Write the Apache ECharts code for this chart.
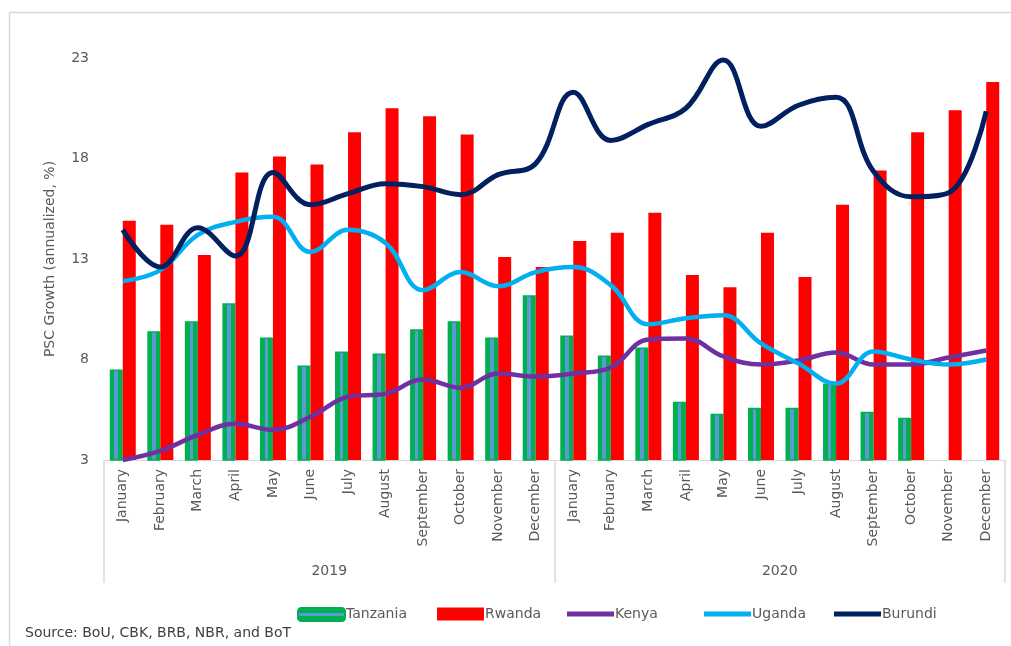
<!DOCTYPE html>
<html>
<head>
<meta charset="utf-8">
<script src="https://cdn.jsdelivr.net/npm/echarts@6/dist/echarts.min.js"></script>
<style>
  html, body { margin: 0; padding: 0; background: #ffffff; }
  #chart { width: 1011px; height: 646px; }
</style>
</head>
<body>
<div id="chart"></div>
<script>
// Months shown under each year, and the years themselves
const months = ['January', 'February', 'March', 'April', 'May', 'June', 'July',
  'August', 'September', 'October', 'November', 'December'];
const years = ['2019', '2020'];

// Y-axis ticks (annualized %)
const yTicks = [3, 8, 13, 18, 23];

// Private sector credit growth by country
const tanzania = [7.5, 9.4, 9.9, 10.8, 9.1, 7.7, 8.4, 8.3, 9.5, 9.9, 9.1, 11.2,
  9.2, 8.2, 8.6, 5.9, 5.3, 5.6, 5.6, 6.8, 5.4, 5.1, null, null];
const rwanda = [14.9, 14.7, 13.2, 17.3, 18.1, 17.7, 19.3, 20.5, 20.1, 19.2, 13.1, 12.6,
  13.9, 14.3, 15.3, 12.2, 11.6, 14.3, 12.1, 15.7, 17.4, 19.3, 20.4, 21.8];
const kenya = [3.0, 3.45, 4.25, 4.8, 4.5, 5.15, 6.15, 6.3, 7.0, 6.6, 7.3, 7.15,
  7.3, 7.6, 9.0, 9.05, 8.15, 7.75, 7.95, 8.35, 7.75, 7.75, 8.1, 8.45];
const uganda = [11.9, 12.45, 14.2, 14.85, 15.1, 13.35, 14.45, 13.8, 11.45, 12.35, 11.65, 12.35,
  12.6, 11.7, 9.75, 10.05, 10.2, 8.8, 7.8, 6.8, 8.4, 8.0, 7.75, 8.0];
const burundi = [14.45, 12.6, 14.55, 13.15, 17.3, 15.7, 16.25, 16.75, 16.6, 16.2, 17.2, 17.75,
  21.3, 18.9, 19.7, 20.5, 22.9, 19.6, 20.65, 21.05, 17.35, 16.1, 16.3, 20.35];

const sourceNote = 'Source: BoU, CBK, BRB, NBR, and BoT';

// One category per month across both years
const categories = [];
years.forEach(() => months.forEach(m => categories.push(m)));

const FONT = 'DejaVu Sans';
const TEXT = '#595959';
const AXIS = '#d9d9d9';
const GREEN = '#00B050';
const STEEL = '#5B9BD5';

// Tanzania bars: green with a thin steel-blue core
const tanzaniaFill = new echarts.graphic.LinearGradient(0, 0, 1, 0, [
  { offset: 0, color: GREEN }, { offset: 0.36, color: GREEN },
  { offset: 0.36, color: STEEL }, { offset: 0.64, color: STEEL },
  { offset: 0.64, color: GREEN }, { offset: 1, color: GREEN }
]);
const tanzaniaIcon = new echarts.graphic.LinearGradient(0, 0, 0, 1, [
  { offset: 0, color: GREEN }, { offset: 0.42, color: GREEN },
  { offset: 0.42, color: STEEL }, { offset: 0.58, color: STEEL },
  { offset: 0.58, color: GREEN }, { offset: 1, color: GREEN }
]);

// Flat stroke used as the legend icon for the line series
const lineIcon = 'path://M0,0H47V5H0Z';

// One legend block per entry, placed along the bottom
const legendText = { color: TEXT, fontFamily: FONT, fontSize: 14, padding: [0, 0, 0, -4] };
function legendAt(left, item) {
  return {
    left: left, top: 602, itemWidth: 47, itemHeight: 13,
    textStyle: legendText, data: [item]
  };
}

const chart = echarts.init(document.getElementById('chart'), null, { renderer: 'canvas' });

chart.setOption({
  animation: false,
  backgroundColor: '#ffffff',
  textStyle: { fontFamily: FONT },
  grid: { left: 104, right: 6, top: 58, bottom: 186, containLabel: false },
  xAxis: [
    {
      type: 'category',
      data: categories,
      boundaryGap: true,
      axisLine: { show: true, lineStyle: { color: AXIS, width: 1 } },
      axisTick: { show: false },
      axisLabel: {
        interval: 0, rotate: 90, margin: 9,
        color: TEXT, fontFamily: FONT, fontSize: 14
      },
      splitLine: { show: false }
    },
    {
      type: 'category',
      data: years,
      position: 'bottom',
      boundaryGap: true,
      axisLine: { show: false },
      axisTick: { show: true, length: 123, interval: 0, lineStyle: { color: AXIS, width: 1.5 } },
      axisLabel: { interval: 0, margin: 104, color: TEXT, fontFamily: FONT, fontSize: 14 },
      splitLine: { show: false }
    }
  ],
  yAxis: {
    type: 'value',
    min: yTicks[0],
    max: yTicks[yTicks.length - 1],
    interval: yTicks[1] - yTicks[0],
    name: 'PSC Growth (annualized, %)',
    nameLocation: 'middle',
    nameGap: 47,
    nameTextStyle: { color: TEXT, fontFamily: FONT, fontSize: 14 },
    axisLine: { show: false },
    axisTick: { show: false },
    splitLine: { show: false },
    axisLabel: { color: TEXT, fontFamily: FONT, fontSize: 14, margin: 15 }
  },
  legend: [
    legendAt(292, { name: 'Tanzania', icon: 'roundRect', itemStyle: { color: tanzaniaIcon } }),
    legendAt(432, { name: 'Rwanda', icon: 'rect' }),
    legendAt(562, { name: 'Kenya', icon: lineIcon }),
    legendAt(699, { name: 'Uganda', icon: lineIcon }),
    legendAt(829, { name: 'Burundi', icon: lineIcon })
  ],
  graphic: [
    {
      type: 'polyline', silent: true, z: -1,
      shape: { points: [[9.5, 646], [9.5, 12.5], [1011, 12.5]] },
      style: { fill: 'none', stroke: AXIS, lineWidth: 1.5 }
    },
    {
      type: 'text', left: 25, top: 626, silent: true,
      style: { text: sourceNote, fill: '#404040', font: '14px "DejaVu Sans"' }
    }
  ],
  series: [
    {
      name: 'Tanzania', type: 'bar', data: tanzania,
      barWidth: 13, barGap: '0%', barCategoryGap: '30%',
      itemStyle: { color: tanzaniaFill, borderColor: GREEN, borderWidth: 1.5 }
    },
    {
      name: 'Rwanda', type: 'bar', data: rwanda,
      barWidth: 13, barGap: '0%',
      itemStyle: { color: '#FF0000' }
    },
    {
      name: 'Kenya', type: 'line', data: kenya, smooth: 0.4,
      showSymbol: false, symbol: 'none',
      lineStyle: { color: '#7030A0', width: 4.5 }, itemStyle: { color: '#7030A0' }
    },
    {
      name: 'Uganda', type: 'line', data: uganda, smooth: 0.4,
      showSymbol: false, symbol: 'none',
      lineStyle: { color: '#00B0F0', width: 4.5 }, itemStyle: { color: '#00B0F0' }
    },
    {
      name: 'Burundi', type: 'line', data: burundi, smooth: 0.4,
      showSymbol: false, symbol: 'none',
      lineStyle: { color: '#002060', width: 5 }, itemStyle: { color: '#002060' }
    }
  ]
});
</script>
</body>
</html>
